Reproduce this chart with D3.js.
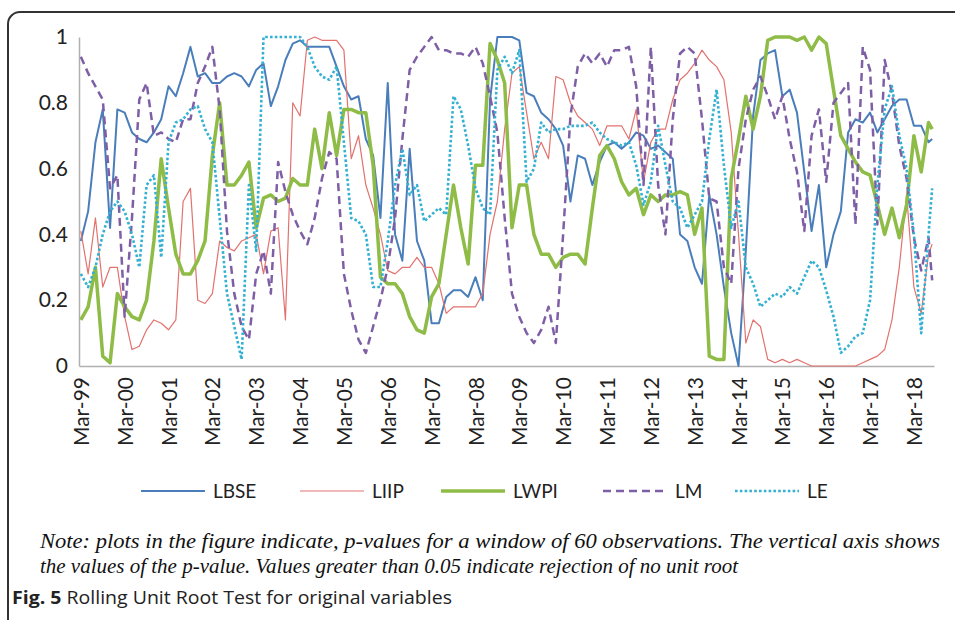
<!doctype html>
<html lang="en">
<head>
  <meta charset="utf-8">
  <title>Rolling Unit Root Test</title>
  <style>
    body { margin: 0; background: #fff; }
    .axis text { font-family: Lato, sans-serif; fill: #222; }
    .series { fill: none; stroke-linejoin: round; }
  </style>
</head>
<body>
<svg width="955" height="620"></svg>
<script src="https://d3js.org/d3.v7.min.js"></script>
<script>
  // months since Mar-99, sampled every second month, last point Aug-18
  var monthIdx = d3.range(0, 233, 2).concat([233]);

  var yearLabels = ["Mar-99", "Mar-00", "Mar-01", "Mar-02", "Mar-03", "Mar-04", "Mar-05",
    "Mar-06", "Mar-07", "Mar-08", "Mar-09", "Mar-10", "Mar-11", "Mar-12", "Mar-13",
    "Mar-14", "Mar-15", "Mar-16", "Mar-17", "Mar-18"];

  var yTicks = [0, 0.2, 0.4, 0.6, 0.8, 1];

  var LBSE = [
    0.38, 0.47, 0.68, 0.78, 0.42, 0.78, 0.77, 0.71, 0.69, 0.68,
    0.71, 0.75, 0.85, 0.82, 0.89, 0.97, 0.88, 0.89, 0.86, 0.86,
    0.88, 0.89, 0.88, 0.85, 0.90, 0.92, 0.79, 0.85, 0.93, 0.98,
    0.99, 0.97, 0.97, 0.97, 0.97, 0.91, 0.85, 0.81, 0.82, 0.69,
    0.64, 0.45, 0.86, 0.40, 0.32, 0.66, 0.38, 0.32, 0.13, 0.13,
    0.21, 0.23, 0.23, 0.21, 0.27, 0.20, 0.81, 1.00, 1.00, 1.00,
    0.99, 0.83, 0.82, 0.77, 0.75, 0.72, 0.67, 0.50, 0.64, 0.63,
    0.55, 0.62, 0.67, 0.68, 0.66, 0.68, 0.71, 0.70, 0.66, 0.67,
    0.65, 0.63, 0.40, 0.38, 0.30, 0.25, 0.52, 0.40, 0.24, 0.10,
    0.00, 0.35, 0.76, 0.93, 0.95, 0.96, 0.82, 0.84, 0.77, 0.59,
    0.41, 0.55, 0.30, 0.40, 0.47, 0.71, 0.75, 0.74, 0.77, 0.71,
    0.75, 0.79, 0.81, 0.81, 0.73, 0.73, 0.68, 0.69];

  var LIIP = [
    0.41, 0.28, 0.45, 0.24, 0.30, 0.30, 0.15, 0.05, 0.06, 0.11,
    0.14, 0.13, 0.11, 0.14, 0.50, 0.54, 0.20, 0.19, 0.22, 0.38,
    0.36, 0.35, 0.38, 0.39, 0.40, 0.28, 0.41, 0.42, 0.14, 0.80,
    0.76, 0.99, 1.00, 0.99, 0.99, 0.99, 0.96, 0.63, 0.70, 0.55,
    0.48, 0.40, 0.29, 0.28, 0.30, 0.30, 0.33, 0.30, 0.30, 0.25,
    0.16, 0.18, 0.18, 0.18, 0.18, 0.22, 0.40, 0.50, 0.72, 0.89,
    0.91, 0.77, 0.63, 0.68, 0.63, 0.88, 0.87, 0.80, 0.76, 0.74,
    0.72, 0.67, 0.73, 0.73, 0.73, 0.69, 0.78, 0.56, 0.68, 0.72,
    0.72, 0.81, 0.87, 0.89, 0.92, 0.96, 0.93, 0.91, 0.87, 0.71,
    0.40, 0.07, 0.14, 0.12, 0.02, 0.01, 0.02, 0.01, 0.02, 0.01,
    0.00, 0.00, 0.00, 0.00, 0.00, 0.00, 0.00, 0.01, 0.02, 0.03,
    0.05, 0.14, 0.30, 0.52, 0.24, 0.16, 0.34, 0.37];

  var LWPI = [
    0.14, 0.18, 0.30, 0.03, 0.01, 0.22, 0.18, 0.15, 0.14, 0.20,
    0.38, 0.63, 0.48, 0.34, 0.28, 0.28, 0.32, 0.38, 0.64, 0.80,
    0.55, 0.55, 0.58, 0.62, 0.42, 0.51, 0.52, 0.50, 0.51, 0.57,
    0.55, 0.55, 0.72, 0.60, 0.77, 0.64, 0.78, 0.78, 0.77, 0.77,
    0.61, 0.27, 0.25, 0.25, 0.22, 0.15, 0.11, 0.10, 0.21, 0.25,
    0.40, 0.55, 0.42, 0.31, 0.61, 0.61, 0.98, 0.93, 0.86, 0.42,
    0.55, 0.55, 0.40, 0.34, 0.34, 0.30, 0.33, 0.34, 0.34, 0.31,
    0.48, 0.64, 0.67, 0.63, 0.56, 0.52, 0.54, 0.46, 0.52, 0.50,
    0.52, 0.52, 0.53, 0.52, 0.40, 0.48, 0.03, 0.02, 0.02, 0.57,
    0.69, 0.82, 0.72, 0.82, 0.99, 1.00, 1.00, 1.00, 0.99, 1.00,
    0.96, 1.00, 0.98, 0.84, 0.70, 0.66, 0.62, 0.59, 0.58, 0.49,
    0.40, 0.48, 0.39, 0.49, 0.70, 0.59, 0.74, 0.72];

  var LM = [
    0.94, 0.89, 0.85, 0.81, 0.54, 0.58, 0.15, 0.45, 0.81, 0.86,
    0.70, 0.71, 0.69, 0.68, 0.75, 0.75, 0.86, 0.91, 0.97, 0.78,
    0.41, 0.22, 0.12, 0.08, 0.28, 0.35, 0.22, 0.62, 0.53, 0.46,
    0.41, 0.37, 0.45, 0.57, 0.65, 0.63, 0.28, 0.17, 0.08, 0.04,
    0.12, 0.20, 0.30, 0.45, 0.69, 0.90, 0.94, 0.97, 1.00, 0.96,
    0.96, 0.95, 0.95, 0.94, 0.97, 0.92, 0.82, 0.71, 0.45, 0.22,
    0.15, 0.10, 0.07, 0.11, 0.18, 0.07, 0.40, 0.76, 0.91, 0.95,
    0.92, 0.95, 0.91, 0.96, 0.96, 0.97, 0.85, 0.55, 0.97, 0.55,
    0.40, 0.75, 0.95, 0.97, 0.95, 0.75, 0.51, 0.50, 0.30, 0.25,
    0.60, 0.75, 0.84, 0.88, 0.82, 0.75, 0.82, 0.69, 0.59, 0.41,
    0.70, 0.78, 0.56, 0.80, 0.83, 0.86, 0.43, 0.97, 0.90, 0.43,
    0.93, 0.83, 0.67, 0.57, 0.39, 0.29, 0.39, 0.26];

  var LE = [
    0.28, 0.24, 0.30, 0.40, 0.47, 0.50, 0.47, 0.40, 0.30, 0.55,
    0.58, 0.33, 0.68, 0.74, 0.75, 0.78, 0.79, 0.72, 0.68, 0.45,
    0.22, 0.12, 0.02, 0.55, 0.35, 1.00, 1.00, 1.00, 1.00, 1.00,
    1.00, 0.97, 0.91, 0.88, 0.87, 0.91, 0.68, 0.45, 0.44, 0.40,
    0.24, 0.24, 0.38, 0.55, 0.66, 0.52, 0.55, 0.44, 0.46, 0.48,
    0.46, 0.82, 0.78, 0.67, 0.54, 0.48, 0.46, 0.90, 0.94, 0.89,
    0.96, 0.56, 0.60, 0.74, 0.71, 0.72, 0.72, 0.73, 0.73, 0.73,
    0.74, 0.71, 0.69, 0.68, 0.67, 0.68, 0.61, 0.49, 0.56, 0.73,
    0.61, 0.50, 0.48, 0.42, 0.46, 0.50, 0.69, 0.84, 0.61, 0.42,
    0.50, 0.30, 0.25, 0.18, 0.20, 0.22, 0.21, 0.24, 0.22, 0.27,
    0.32, 0.30, 0.23, 0.15, 0.04, 0.06, 0.09, 0.10, 0.20, 0.55,
    0.78, 0.85, 0.70, 0.60, 0.40, 0.10, 0.40, 0.54];

  var seriesNames = ["LBSE", "LIIP", "LWPI", "LM", "LE"];
  var seriesValues = [LBSE, LIIP, LWPI, LM, LE];
  var seriesColors = ["#4a7ebb", "#e2726e", "#8fbc47", "#7e5fa6", "#33b0d2"];
  var seriesWidths = [2, 1.2, 3.5, 2.5, 2.6];
  var seriesDash = [null, null, null, "8,5", "2.6,2.2"];

  var svg = d3.select("svg");

  // frame around figure
  svg.append("rect")
    .attr("x", 8).attr("y", 12)
    .attr("width", 1000).attr("height", 700)
    .attr("rx", 12)
    .attr("fill", "none")
    .attr("stroke", "#333")
    .attr("stroke-width", 2);

  var x = d3.scaleLinear().domain([-0.5, 233.5]).range([79, 934]);
  var y = d3.scaleLinear().domain([0, 1]).range([366, 37]);

  var yAxis = svg.append("g")
    .attr("class", "axis")
    .attr("transform", "translate(79,0)")
    .call(d3.axisLeft(y).tickValues(yTicks).tickSize(0).tickPadding(11)
      .tickFormat(function (d) { return (d === 0 || d === 1) ? d3.format("d")(d) : d3.format(".1f")(d); }));
  yAxis.select(".domain").attr("stroke", "#b0b0b0").attr("stroke-width", 1.5);
  yAxis.selectAll("text").attr("font-size", 21);

  var xAxis = svg.append("g")
    .attr("class", "axis")
    .attr("transform", "translate(0,366)")
    .call(d3.axisBottom(x).tickValues(d3.range(0, 229, 12)).tickSize(0)
      .tickFormat(function (d, i) { return yearLabels[i]; }));
  xAxis.select(".domain").attr("stroke", "#b0b0b0").attr("stroke-width", 1.5);
  xAxis.selectAll("text")
    .attr("font-size", 21)
    .attr("transform", "rotate(-90)")
    .attr("x", -11)
    .attr("y", 0)
    .attr("dy", "0.36em")
    .attr("text-anchor", "end");

  var line = d3.line()
    .x(function (d) { return x(d[0]); })
    .y(function (d) { return y(d[1]); });

  seriesValues.forEach(function (vals, k) {
    var pts = monthIdx.map(function (m, i) { return [m, vals[i]]; });
    svg.append("path")
      .datum(pts)
      .attr("class", "series")
      .attr("d", line)
      .attr("stroke", seriesColors[k])
      .attr("stroke-width", seriesWidths[k])
      .attr("stroke-dasharray", seriesDash[k]);
  });

  // legend
  var legendX = [141, 300, 441, 603, 735];
  var legend = svg.append("g").attr("transform", "translate(0,491)");
  seriesNames.forEach(function (name, k) {
    var g = legend.append("g").attr("transform", "translate(" + legendX[k] + ",0)");
    g.append("line")
      .attr("x1", 0).attr("x2", 64)
      .attr("stroke", seriesColors[k])
      .attr("stroke-width", seriesWidths[k])
      .attr("stroke-dasharray", seriesDash[k]);
    g.append("text")
      .attr("x", 72).attr("dy", "0.35em")
      .attr("font-family", "Lato, sans-serif")
      .attr("font-size", 19)
      .attr("fill", "#222")
      .text(name);
  });

  // note and caption
  var noteLines = [
    "Note: plots in the figure indicate, p-values for a window of 60 observations. The vertical axis shows",
    "the values of the p-value. Values greater than 0.05 indicate rejection of no unit root"
  ];
  var noteWidths = [900, 698];
  noteLines.forEach(function (t, i) {
    svg.append("text")
      .attr("x", 40).attr("y", 548 + i * 25)
      .attr("font-family", "'Liberation Serif', serif")
      .attr("font-style", "italic")
      .attr("font-size", 21)
      .attr("fill", "#111")
      .attr("textLength", noteWidths[i])
      .attr("lengthAdjust", "spacingAndGlyphs")
      .text(t);
  });

  var cap = svg.append("text")
    .attr("x", 12).attr("y", 604)
    .attr("font-family", "'Open Sans', sans-serif")
    .attr("font-size", 18)
    .attr("fill", "#222")
    .attr("textLength", 440)
    .attr("lengthAdjust", "spacingAndGlyphs");
  cap.append("tspan").attr("font-weight", "bold").text("Fig. 5");
  cap.append("tspan").text(" Rolling Unit Root Test for original variables");
</script>
</body>
</html>
